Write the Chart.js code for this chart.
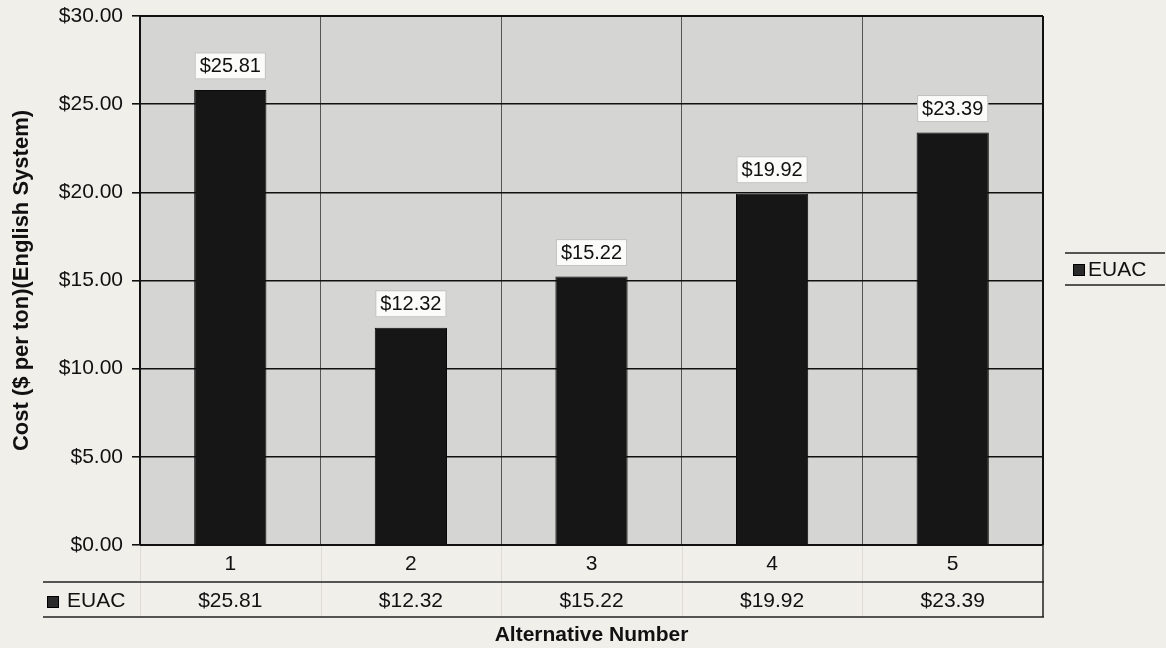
<!DOCTYPE html>
<html>
<head>
<meta charset="utf-8">
<script src="https://cdn.jsdelivr.net/npm/chart.js@4.4.1/dist/chart.umd.min.js"></script>
<style>
  html, body { margin: 0; padding: 0; background: #f1efea; }
  #wrap { width: 1166px; height: 648px; }
</style>
</head>
<body>
<div id="wrap"><canvas id="c" width="1166" height="648"></canvas></div>
<script>
// Equivalent uniform annual cost per alternative
const categories = ['1', '2', '3', '4', '5'];
const seriesName = 'EUAC';
const euac = [25.81, 12.32, 15.22, 19.92, 23.39];
const yTicks = [0, 5, 10, 15, 20, 25, 30];

const FONT = '"Liberation Sans", Arial, sans-serif';
const money = v => '$' + Number(v).toFixed(2);

const plotBackground = {
  id: 'plotBackground',
  beforeDraw(chart) {
    const { ctx, chartArea: a } = chart;
    ctx.save();
    ctx.fillStyle = '#d5d5d3';
    ctx.fillRect(a.left, a.top, a.right - a.left, a.bottom - a.top);
    ctx.restore();
  },
  afterDraw(chart) {
    const { ctx, chartArea: a } = chart;
    ctx.save();
    ctx.strokeStyle = '#111';
    ctx.lineWidth = 2;
    ctx.beginPath();
    ctx.moveTo(a.left, a.top); ctx.lineTo(a.right, a.top);
    ctx.moveTo(a.right, a.top); ctx.lineTo(a.right, a.bottom);
    ctx.moveTo(a.left, a.bottom); ctx.lineTo(a.right, a.bottom);
    ctx.stroke();
    ctx.restore();
  }
};

// value boxes above each bar
const valueLabels = {
  id: 'valueLabels',
  afterDatasetsDraw(chart) {
    const { ctx } = chart;
    const meta = chart.getDatasetMeta(0);
    ctx.save();
    ctx.font = '20px ' + FONT;
    ctx.textAlign = 'center';
    ctx.textBaseline = 'middle';
    meta.data.forEach((bar, i) => {
      const text = money(euac[i]);
      const w = ctx.measureText(text).width + 10;
      const h = 27;
      const cy = bar.y - 24;
      ctx.fillStyle = '#fbfbfa';
      ctx.fillRect(bar.x - w / 2, cy - h / 2, w, h);
      ctx.strokeStyle = 'rgba(120,120,120,0.45)';
      ctx.lineWidth = 1;
      ctx.strokeRect(bar.x - w / 2 + 0.5, cy - h / 2 + 0.5, w - 1, h - 1);
      ctx.fillStyle = '#111';
      ctx.fillText(text, bar.x, cy + 1);
    });
    ctx.restore();
  }
};

function swatch(ctx, x, y) {
  ctx.fillStyle = '#2a2a2a';
  ctx.fillRect(x, y, 12, 12);
  ctx.strokeStyle = '#000';
  ctx.lineWidth = 1;
  ctx.strokeRect(x + 0.5, y + 0.5, 11, 11);
}

// data table under the category axis
const dataTable = {
  id: 'dataTable',
  afterDraw(chart) {
    const { ctx, chartArea: a } = chart;
    const x = chart.scales.x;
    const rowTop = 582, rowBottom = 617, tableLeft = 43;
    ctx.save();
    // faint cell dividers
    ctx.strokeStyle = '#dedbd4';
    ctx.lineWidth = 1;
    ctx.beginPath();
    for (let i = 0; i < categories.length; i++) {
      const bx = Math.round(x.getPixelForValue(i) - (x.getPixelForValue(1) - x.getPixelForValue(0)) / 2) + 0.5;
      ctx.moveTo(bx, a.bottom + 1); ctx.lineTo(bx, rowBottom);
    }
    ctx.stroke();
    // row rules and right border
    ctx.strokeStyle = '#222';
    ctx.lineWidth = 1.5;
    ctx.beginPath();
    ctx.moveTo(tableLeft, rowTop); ctx.lineTo(a.right + 1, rowTop);
    ctx.moveTo(tableLeft, rowBottom); ctx.lineTo(a.right + 1, rowBottom);
    ctx.moveTo(a.right, a.bottom); ctx.lineTo(a.right, rowBottom);
    ctx.stroke();
    // row header
    swatch(ctx, 47, 596);
    ctx.fillStyle = '#111';
    ctx.font = '21px ' + FONT;
    ctx.textBaseline = 'middle';
    ctx.textAlign = 'left';
    ctx.fillText(seriesName, 67, 601);
    // values
    ctx.textAlign = 'center';
    euac.forEach((v, i) => ctx.fillText(money(v), x.getPixelForValue(i), 601));
    ctx.restore();
  }
};

const sideLegend = {
  id: 'sideLegend',
  afterDraw(chart) {
    const { ctx } = chart;
    ctx.save();
    ctx.strokeStyle = '#222';
    ctx.lineWidth = 1.5;
    ctx.beginPath();
    ctx.moveTo(1065, 253); ctx.lineTo(1165, 253);
    ctx.moveTo(1065, 285); ctx.lineTo(1165, 285);
    ctx.stroke();
    swatch(ctx, 1073, 264);
    ctx.fillStyle = '#111';
    ctx.font = '21px ' + FONT;
    ctx.textBaseline = 'middle';
    ctx.textAlign = 'left';
    ctx.fillText(seriesName, 1088, 270);
    ctx.restore();
  }
};

new Chart(document.getElementById('c'), {
  type: 'bar',
  data: {
    labels: categories,
    datasets: [{
      label: seriesName,
      data: euac,
      backgroundColor: '#161616',
      borderColor: '#0a0a0a',
      borderWidth: 1,
      barPercentage: 0.4,
      categoryPercentage: 1.0
    }]
  },
  options: {
    responsive: false,
    animation: false,
    events: [],
    layout: { padding: { top: 16, right: 123, left: 0, bottom: 0 } },
    plugins: {
      legend: { display: false },
      tooltip: { enabled: false }
    },
    scales: {
      x: {
        grid: { color: '#555', lineWidth: 1, offset: true, drawTicks: false },
        border: { display: false },
        ticks: { color: '#111', font: { family: FONT, size: 21 }, padding: 7 },
        title: {
          display: true, text: 'Alternative Number', color: '#111',
          font: { family: FONT, size: 21, weight: 'bold' },
          padding: { top: 0, bottom: 0 }
        },
        afterFit(s) { s.height = 103; }
      },
      y: {
        min: 0, max: 30,
        afterBuildTicks(s) { s.ticks = yTicks.map(v => ({ value: v })); },
        grid: { color: '#111', lineWidth: 1.6, tickLength: 8, tickColor: '#111' },
        border: { display: true, color: '#111', width: 2 },
        ticks: { color: '#111', font: { family: FONT, size: 21 }, padding: 9, callback: v => money(v) },
        title: {
          display: true, text: 'Cost ($ per ton)(English System)', color: '#111',
          font: { family: FONT, size: 22, weight: 'bold' },
          padding: { top: 9, bottom: 0 }
        },
        afterFit(s) { s.width = 140; s.paddingTop = 0; s.paddingBottom = 0; }
      }
    }
  },
  plugins: [plotBackground, valueLabels, dataTable, sideLegend]
});
</script>
</body>
</html>
